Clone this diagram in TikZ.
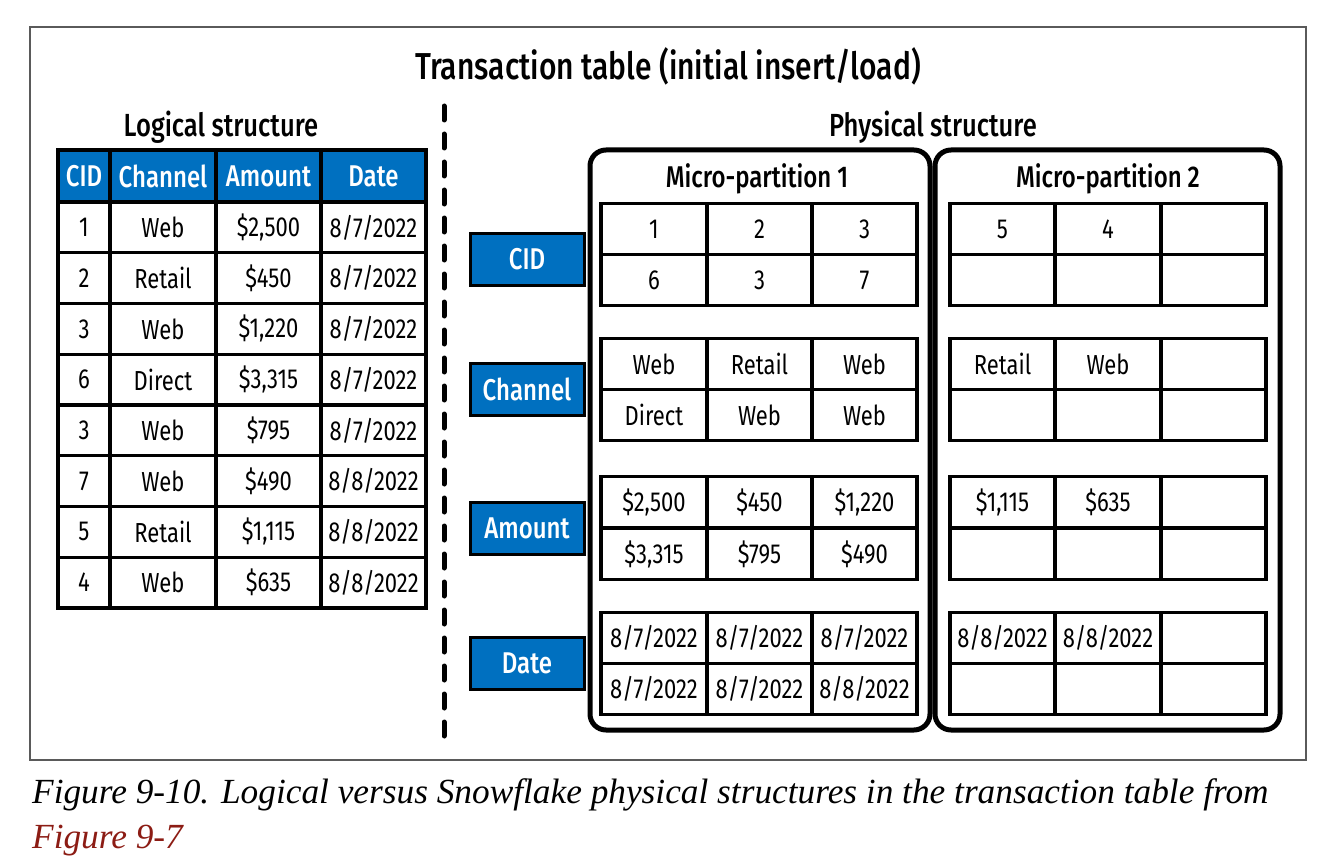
\documentclass[tikz,border=0pt]{standalone}
\usepackage{fontspec}
\setmainfont{Fira Sans}[FakeStretch=0.8]
\newfontfamily\medf{Fira Sans Medium}[FakeStretch=0.8]
\newfontfamily\capf{Liberation Serif}
\definecolor{hdrblue}{RGB}{0,112,192}
\definecolor{linkred}{RGB}{140,28,20}
\definecolor{framegray}{RGB}{90,90,90}
\newcommand\LogRow[6]{%
  \node[cell,minimum width=52pt,minimum height=50.75pt] (L#1a) at (84,#2) {#3};
  \node[cell,minimum width=106pt,minimum height=50.75pt] (L#1b) at (163,#2) {#4};
  \node[cell,minimum width=105pt,minimum height=50.75pt] (L#1c) at (268.5,#2) {#5};
  \node[cell,minimum width=105pt,minimum height=50.75pt] (L#1d) at (373.5,#2) {#6};}
\newcommand\PRowA[5]{%
  \node[cell,minimum width=106pt] (#1a) at (654,#2) {#3};
  \node[cell,minimum width=105pt] (#1b) at (759.5,#2) {#4};
  \node[cell,minimum width=105pt] (#1c) at (864.5,#2) {#5};}
\newcommand\PRowB[5]{%
  \node[cell,minimum width=105pt] (#1a) at (1002.5,#2) {#3};
  \node[cell,minimum width=106pt] (#1b) at (1108,#2) {#4};
  \node[cell,minimum width=105pt] (#1c) at (1213.5,#2) {#5};}
\begin{document}
\begin{tikzpicture}[x=1pt,y=-1pt,
  cell/.style={draw=black,line width=3.2pt,inner sep=0pt,minimum height=51pt,
    font=\fontsize{27.5}{30}\selectfont},
  hdr/.style={cell,fill=hdrblue,text=white,minimum height=52pt,
    font=\medf\fontsize{30}{34}\selectfont},
  lbl/.style={draw=black,line width=3pt,fill=hdrblue,text=white,inner sep=0pt,
    minimum width=114pt,minimum height=52pt,font=\medf\fontsize{30}{34}\selectfont},
  mpbox/.style={draw=black,line width=5pt,rounded corners=16pt,inner sep=0pt,
    minimum height=580pt},
  heading/.style={anchor=base,inner sep=0pt,font=\medf\fontsize{32}{36}\selectfont},
  captext/.style={anchor=base west,inner sep=0pt,font=\capf\itshape\fontsize{35.3}{40}\selectfont}]
\useasboundingbox (0,0) rectangle (1334,864);
\fill[white] (0,0) rectangle (1334,864);
% frame
\node[draw=framegray,line width=1.2pt,inner sep=0pt,minimum width=1276pt,minimum height=733pt] (frame) at (668,393.5) {};
% title
\node[anchor=base,inner sep=0pt,font=\medf\fontsize{37.5}{40}\selectfont] (title) at (668,80) {Transaction table (initial insert/load)};
\node[heading] (logt) at (221,137) {Logical structure};
\node[heading] (phyt) at (933,137) {Physical structure};
% logical table
\node[hdr,minimum width=52pt] (H1) at (84,176) {CID};
\node[hdr,minimum width=106pt] (H2) at (163,176) {Channel};
\node[hdr,minimum width=105pt] (H3) at (268.5,176) {Amount};
\node[hdr,minimum width=105pt] (H4) at (373.5,176) {Date};
\LogRow{1}{227.4}{1}{Web}{\$2,500}{8/7/2022}
\LogRow{2}{278.1}{2}{Retail}{\$450}{8/7/2022}
\LogRow{3}{328.9}{3}{Web}{\$1,220}{8/7/2022}
\LogRow{4}{379.6}{6}{Direct}{\$3,315}{8/7/2022}
\LogRow{5}{430.4}{3}{Web}{\$795}{8/7/2022}
\LogRow{6}{481.1}{7}{Web}{\$490}{8/8/2022}
\LogRow{7}{531.9}{5}{Retail}{\$1,115}{8/8/2022}
\LogRow{8}{582.6}{4}{Web}{\$635}{8/8/2022}
% divider
\coordinate (dtop) at (444,106);
\coordinate (dbot) at (444,737);
\draw[line width=5pt,line cap=round,dash pattern=on 14pt off 14pt] (dtop) -- (dbot);
% micro-partitions
\node[mpbox,minimum width=340pt] (mp1) at (760,440) {};
\node[mpbox,minimum width=345pt] (mp2) at (1107.5,440) {};
\node[heading,font=\medf\fontsize{30}{34}\selectfont] (mp1t) at (757,187) {Micro-partition 1};
\node[heading,font=\medf\fontsize{30}{34}\selectfont] (mp2t) at (1108,187) {Micro-partition 2};
% labels
\node[lbl] (lcid) at (527,259) {CID};
\node[lbl] (lch) at (527,389.5) {Channel};
\node[lbl] (lam) at (527,528) {Amount};
\node[lbl] (ldt) at (527,663.5) {Date};
% partition 1
\PRowA{ca}{229}{1}{2}{3}
\PRowA{cb}{280}{6}{3}{7}
\PRowA{ha}{364}{Web}{Retail}{Web}
\PRowA{hb}{415}{Direct}{Web}{Web}
\PRowA{aa}{502}{\$2,500}{\$450}{\$1,220}
\PRowA{ab}{554}{\$3,315}{\$795}{\$490}
\PRowA{da}{638}{8/7/2022}{8/7/2022}{8/7/2022}
\PRowA{db}{689}{8/7/2022}{8/7/2022}{8/8/2022}
% partition 2
\PRowB{Ca}{229}{5}{4}{}
\PRowB{Cb}{280}{}{}{}
\PRowB{Ha}{364}{Retail}{Web}{}
\PRowB{Hb}{415}{}{}{}
\PRowB{Aa}{502}{\$1,115}{\$635}{}
\PRowB{Ab}{554}{}{}{}
\PRowB{Da}{638}{8/8/2022}{8/8/2022}{}
\PRowB{Db}{689}{}{}{}
% caption
\node[captext] (cap1) at (32,803) {Figure 9-10. Logical versus Snowflake physical structures in the transaction table from};
\node[captext,text=linkred] (cap2) at (32,848) {Figure 9-7};
\end{tikzpicture}
\end{document}
